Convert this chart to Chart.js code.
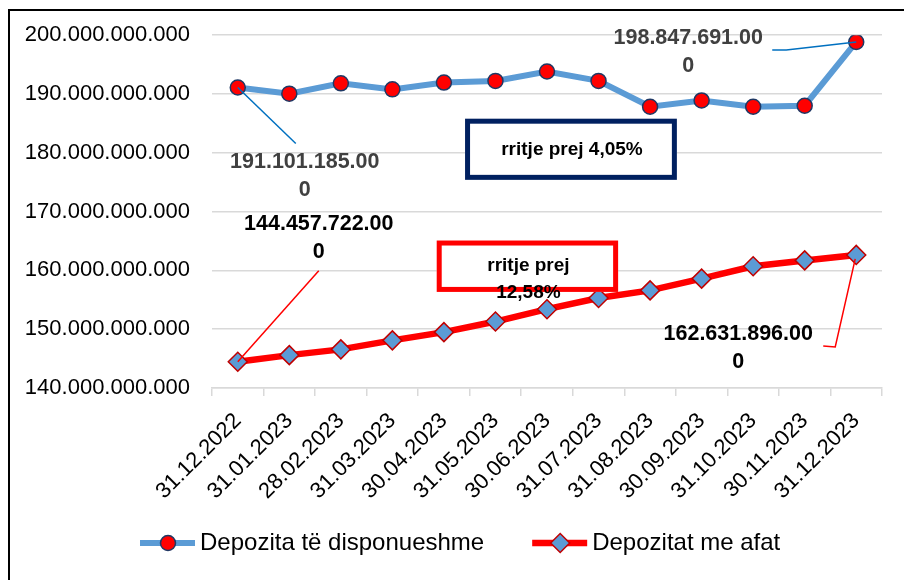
<!DOCTYPE html>
<html>
<head>
<meta charset="utf-8">
<script src="https://cdn.jsdelivr.net/npm/chart.js@4.4.1/dist/chart.umd.min.js"></script>
<style>
  body { margin: 0; background: #fff; }
  canvas { display: block; }
</style>
</head>
<body>
<canvas id="myChart" width="904" height="580"></canvas>
<script>
/*-------- TE DHENAT --------*/
var datat = ['31.12.2022','31.01.2023','28.02.2023','31.03.2023','30.04.2023','31.05.2023','30.06.2023',
             '31.07.2023','31.08.2023','30.09.2023','31.10.2023','30.11.2023','31.12.2023'];

var dep_disponueshme = [191101185000,190060000000,191820000000,190790000000,191940000000,192230000000,
                        193830000000,192230000000,187830000000,188910000000,187830000000,188000000000,198847691000];
var dep_afat = [144457722000,145590000000,146570000000,148100000000,149500000000,151300000000,
                153400000000,155300000000,156600000000,158600000000,160700000000,161700000000,162631896000];

var emrat = ['Depozita të disponueshme', 'Depozitat me afat'];

var y_min = 140000000000;
var y_max = 200000000000;
var y_hapi = 10000000000;

var shkronja = '"Liberation Sans", Arial, sans-serif';

function formato(v) {
  return String(Math.round(v)).replace(/\B(?=(\d{3})+(?!\d))/g, '.');
}

function rritja(seria) {
  var p = (seria[seria.length - 1] / seria[0] - 1) * 100;
  return p.toFixed(2).replace('.', ',') + '%';
}

/*-------- KORNIZA --------*/
var korniza = {
  id: 'korniza',
  beforeDraw: function(chart) {
    var ctx = chart.ctx;
    ctx.save();
    ctx.fillStyle = '#fff';
    ctx.fillRect(0, 0, chart.width, chart.height);
    ctx.strokeStyle = '#000';
    ctx.lineWidth = 2;
    ctx.strokeRect(9, 10, chart.width + 20, chart.height + 20);
    ctx.restore();
  }
};

/*-------- ETIKETAT DHE KUTITE --------*/
var etiketat = {
  id: 'etiketat',
  afterDatasetsDraw: function(chart) {
    var ctx = chart.ctx;
    var sx = chart.scales.x, sy = chart.scales.y;
    var n = datat.length - 1;

    function pika(seria, i) {
      return { x: sx.getPixelForValue(i), y: sy.getPixelForValue(seria[i]) };
    }

    function vije(p, pts, ngjyra) {
      ctx.save();
      ctx.strokeStyle = ngjyra;
      ctx.lineWidth = 1.5;
      ctx.beginPath();
      ctx.moveTo(p.x + pts[0][0], p.y + pts[0][1]);
      for (var k = 1; k < pts.length; k++) ctx.lineTo(p.x + pts[k][0], p.y + pts[k][1]);
      ctx.stroke();
      ctx.restore();
    }

    function tekst(p, v, dx, dy, ngjyra) {
      var s = formato(v);
      ctx.save();
      ctx.fillStyle = ngjyra;
      ctx.font = 'bold 21.5px ' + shkronja;
      ctx.textAlign = 'center';
      ctx.textBaseline = 'middle';
      ctx.fillText(s.slice(0, -1), p.x + dx, p.y + dy);
      ctx.fillText(s.slice(-1), p.x + dx, p.y + dy + 28);
      ctx.restore();
    }

    // blu - e para
    var p = pika(dep_disponueshme, 0);
    vije(p, [[0, 0], [58, 56]], '#0070C0');
    tekst(p, dep_disponueshme[0], 67, 75, '#404040');
    // blu - e fundit
    p = pika(dep_disponueshme, n);
    vije(p, [[0, 0], [-70, 8], [-84, 8]], '#0070C0');
    tekst(p, dep_disponueshme[n], -168, -4, '#404040');
    // kuqe - e para
    p = pika(dep_afat, 0);
    vije(p, [[0, 0], [81, -91]], '#FF0000');
    tekst(p, dep_afat[0], 81, -138, '#000');
    // kuqe - e fundit
    p = pika(dep_afat, n);
    vije(p, [[-1, 4], [-21, 92], [-33, 91]], '#FF0000');
    tekst(p, dep_afat[n], -118, 79, '#000');

    // kutite me rritjen
    function kuti(x0, x1, v0, v1, ngjyra, rreshta) {
      var l = sx.getPixelForValue(x0), r = sx.getPixelForValue(x1);
      var t = sy.getPixelForValue(v0), b = sy.getPixelForValue(v1);
      ctx.save();
      ctx.fillStyle = '#fff';
      ctx.fillRect(l, t, r - l, b - t);
      ctx.strokeStyle = ngjyra;
      ctx.lineWidth = 5;
      ctx.strokeRect(l + 2.5, t + 2.5, r - l - 5, b - t - 5);
      ctx.fillStyle = '#000';
      ctx.font = 'bold 19px ' + shkronja;
      ctx.textAlign = 'center';
      ctx.textBaseline = 'middle';
      var cy = (t + b) / 2 - (rreshta.length - 1) * 13.5 + (rreshta.length > 1 ? 13 : 0);
      for (var k = 0; k < rreshta.length; k++) {
        ctx.fillText(rreshta[k], (l + r) / 2 + 1, cy + k * 27);
      }
      ctx.restore();
    }
    kuti(4.41, 8.52, 185800000000, 175400000000, '#002060', ['rritje prej ' + rritja(dep_disponueshme)]);
    kuti(3.86, 7.38, 165080000000, 156340000000, '#FF0000', ['rritje prej', rritja(dep_afat)]);
  }
};

/*-------- LEGJENDA --------*/
var legjenda = {
  id: 'legjenda',
  afterDraw: function(chart) {
    var ctx = chart.ctx;
    var x = 140, y = 543;
    ctx.save();
    ctx.font = '24px ' + shkronja;
    ctx.textBaseline = 'middle';
    chart.data.datasets.forEach(function(ds) {
      ctx.strokeStyle = ds.borderColor;
      ctx.lineWidth = ds.borderWidth;
      ctx.beginPath();
      ctx.moveTo(x, y);
      ctx.lineTo(x + 55, y);
      ctx.stroke();
      ctx.fillStyle = ds.pointBackgroundColor;
      ctx.strokeStyle = ds.pointBorderColor;
      ctx.lineWidth = ds.pointBorderWidth;
      Chart.helpers.drawPoint(ctx, { pointStyle: ds.pointStyle, radius: ds.pointRadius, rotation: 0, borderWidth: ds.pointBorderWidth }, x + 28, y);
      ctx.fillStyle = '#000';
      ctx.fillText(ds.label, x + 60, y);
      x += 60 + ctx.measureText(ds.label).width + 48;
    });
    ctx.restore();
  }
};

var ctx = document.getElementById('myChart');
var myChart = new Chart(ctx, {
  type: 'line',
  data: {
    labels: datat,
    datasets: [
      {
        label: emrat[0],
        data: dep_disponueshme,
        borderColor: '#5B9BD5',
        borderWidth: 6,
        pointStyle: 'circle',
        pointRadius: 7.5,
        pointBackgroundColor: '#FF0000',
        pointBorderColor: '#1F3864',
        pointBorderWidth: 1.5,
        tension: 0,
        fill: false
      },
      {
        label: emrat[1],
        data: dep_afat,
        borderColor: '#FF0000',
        borderWidth: 6.5,
        pointStyle: 'rectRot',
        pointRadius: 9.5,
        pointBackgroundColor: '#5B9BD5',
        pointBorderColor: '#C00000',
        pointBorderWidth: 1.5,
        tension: 0,
        fill: false
      }
    ]
  },
  options: {
    responsive: false,
    animation: false,
    layout: { padding: { top: 34, right: 22, left: 0, bottom: 0 } },
    plugins: {
      legend: { display: false },
      tooltip: { enabled: false }
    },
    scales: {
      x: {
        offset: true,
        grid: { offset: true, drawOnChartArea: false, drawTicks: true, tickLength: 8, color: '#d9d9d9', lineWidth: 1.5 },
        border: { display: true, color: '#d9d9d9', width: 1.5 },
        ticks: { minRotation: 45, maxRotation: 45, autoSkip: false, padding: 12, color: '#000', font: { family: shkronja, size: 22 } },
        afterFit: function(s) { s.height = 192; }
      },
      y: {
        min: y_min,
        max: y_max,
        ticks: { stepSize: y_hapi, padding: 22, color: '#000', font: { family: shkronja, size: 22 }, callback: function(v) { return formato(v); } },
        grid: { color: '#d9d9d9', lineWidth: 1.5, drawTicks: false },
        border: { display: false },
        afterFit: function(s) { s.width = 212; }
      }
    }
  },
  plugins: [korniza, etiketat, legjenda]
});
</script>
</body>
</html>
